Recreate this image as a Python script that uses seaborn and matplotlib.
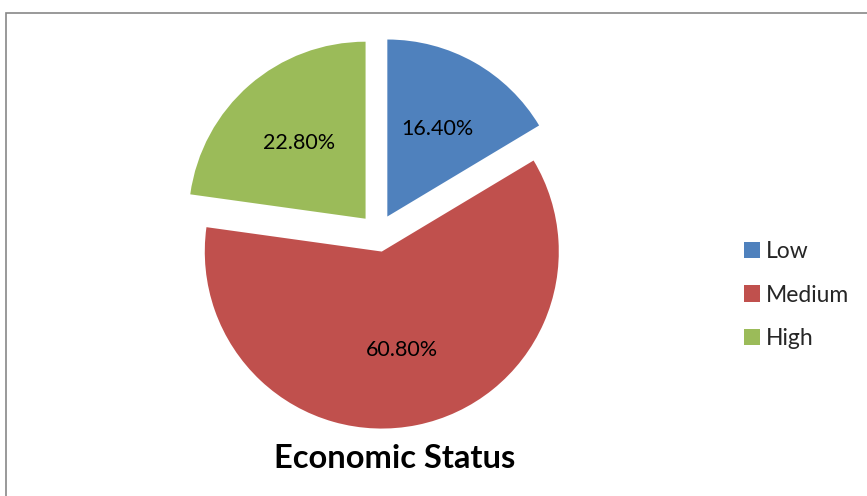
import matplotlib
matplotlib.use("Agg")
import matplotlib.pyplot as plt
import seaborn as sns
from matplotlib.patches import Rectangle

categories = ["Low", "Medium", "High"]
values = [16.4, 60.8, 22.8]
colors = ["#4F81BD", "#C0504D", "#9BBB59"]
title = "Economic Status"

sns.set_theme(style="white")
plt.rcParams["font.family"] = ["Lato", "DejaVu Sans"]

W, H = 867, 496
fig = plt.figure(figsize=(W / 100, H / 100), dpi=100)
fig.patch.set_facecolor("white")

# pixel-based geometry of the pie
cx, cy, R = 378.0, 233.0, 177.0
ax = fig.add_axes([0, 0, 1, 1])
ax.axis("off")

wedges, texts, autotexts = ax.pie(
    values,
    colors=colors,
    startangle=90,
    counterclock=False,
    explode=[0.107] * len(values),
    radius=1.0,
    autopct=lambda p: f"{p:.2f}%",
    pctdistance=0.57,
    textprops={"fontsize": 15.5, "color": "black"},
    wedgeprops={"linewidth": 0},
)
ax.set_xlim((0 - cx) / R, (W - cx) / R)
ax.set_ylim((cy - H) / R, (cy - 0) / R)
ax.set_aspect("auto")

leg = fig.legend(
    wedges, categories,
    loc="center left",
    bbox_to_anchor=(735 / W, 1 - 295 / H),
    frameon=False,
    fontsize=16.5,
    handlelength=0.7,
    handleheight=0.7,
    handletextpad=0.25,
    labelspacing=1.0,
    borderaxespad=0,
)

fig.text(395 / W, 1 - 459 / H, title, ha="center", va="center",
         fontsize=23.5, fontweight="bold", color="black")

# outer chart border
fig.patches.append(Rectangle((5.5, -20), W + 20, H - 12.5 + 20,
                             transform=None, fill=False,
                             edgecolor="#878787", linewidth=1.2))

fig.savefig("out.png", dpi=100, facecolor="white")
